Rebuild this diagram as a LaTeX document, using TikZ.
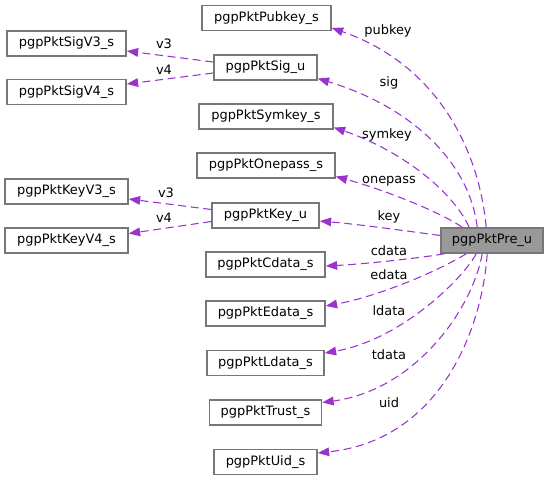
\documentclass[tikz,border=0pt]{standalone}
\usepackage{fontspec}
\setmainfont{DejaVu Sans}
\usetikzlibrary{arrows.meta,calc}
\definecolor{edgec}{HTML}{9A32CD}
\definecolor{boxc}{HTML}{777777}
\definecolor{mainfill}{HTML}{999999}
\tikzset{
  box/.style={draw=boxc, line width=1.2pt, rectangle, inner sep=0pt, minimum height=18.75pt,
    font=\fontsize{9.7}{11}\selectfont, text height=7.2pt, text depth=2pt},
  mainbox/.style={box, fill=mainfill},
  rel/.style={draw=edgec, line width=0.8pt, dash pattern=on 6pt off 3.5pt,
    -{Triangle[length=8.5pt,width=6.5pt,fill=edgec]}},
  lbl/.style={font=\fontsize{9.7}{11}\selectfont, inner sep=0pt, text height=7.2pt, text depth=2pt}
}
\begin{document}
\begin{tikzpicture}[x=0.75pt,y=-0.75pt]
\useasboundingbox (0,0) rectangle (549,480);
% nodes
\node[box, minimum width=96.75pt]  (pub)   at (266.5,18)   {pgpPktPubkey\_s};
\node[box, minimum width=89.25pt]  (sigv3) at (66.5,43.5)  {pgpPktSigV3\_s};
\node[box, minimum width=77.25pt]  (sig)   at (265.5,67.5) {pgpPktSig\_u};
\node[box, minimum width=89.25pt]  (sigv4) at (66.5,92)    {pgpPktSigV4\_s};
\node[box, minimum width=100.5pt]  (sym)   at (266,116.5)  {pgpPktSymkey\_s};
\node[box, minimum width=103.5pt]  (one)   at (266,165.5)  {pgpPktOnepass\_s};
\node[box, minimum width=92.25pt]  (keyv3) at (66.5,191.5) {pgpPktKeyV3\_s};
\node[box, minimum width=80.25pt]  (key)   at (265.5,215.5){pgpPktKey\_u};
\node[box, minimum width=92.25pt]  (keyv4) at (66.5,240.5) {pgpPktKeyV4\_s};
\node[mainbox, minimum width=76.5pt] (pre) at (492,240.5)  {pgpPktPre\_u};
\node[box, minimum width=89.25pt]  (cdata) at (265.5,264.5){pgpPktCdata\_s};
\node[box, minimum width=89.25pt]  (edata) at (265.5,313.5){pgpPktEdata\_s};
\node[box, minimum width=87.75pt]  (ldata) at (265.5,363)  {pgpPktLdata\_s};
\node[box, minimum width=84pt]     (trust) at (265.5,412.5){pgpPktTrust\_s};
\node[box, minimum width=77.25pt]  (uid)   at (265.5,462)  {pgpPktUid\_s};
% edges from pre (upper)
\draw[rel] ($(pre.north west)+(46,0)$) .. controls (478,140) and (430,62) .. ($(pub.east)+(0,10)$);
\draw[rel] ($(pre.north west)+(37,0)$) .. controls (470,165) and (415,108) .. ($(sig.east)+(0,11)$);
\draw[rel] ($(pre.north west)+(29,0)$) .. controls (452,190) and (400,150) .. ($(sym.east)+(0,11)$);
\draw[rel] ($(pre.north west)+(22,0)$) .. controls (440,212) and (385,190) .. ($(one.east)+(0,11)$);
\draw[rel] ($(pre.west)+(0,-5)$) .. controls (400,230) and (355,224) .. ($(key.east)+(0,5.5)$);
% edges from pre (lower)
\draw[rel] ($(pre.south west)+(4,0)$) .. controls (420,258) and (365,264) .. ($(cdata.east)+(0,1.5)$);
\draw[rel] ($(pre.south west)+(26,0)$) .. controls (440,270) and (380,296) .. ($(edata.east)+(0,-7.5)$);
\draw[rel] ($(pre.south west)+(36,0)$) .. controls (462,280) and (400,340) .. ($(ldata.east)+(0,-10)$);
\draw[rel] ($(pre.south west)+(42,0)$) .. controls (472,310) and (415,390) .. ($(trust.east)+(0,-10)$);
\draw[rel] ($(pre.south west)+(47,0)$) .. controls (482,330) and (440,440) .. ($(uid.east)+(0,-9)$);
% sig / key versions
\draw[rel] ($(sig.west)+(0,-5.5)$) -- ($(sigv3.east)+(0,7.5)$);
\draw[rel] ($(sig.west)+(0,5.5)$) -- ($(sigv4.east)+(0,-8)$);
\draw[rel] ($(key.west)+(0,-6)$) -- ($(keyv3.east)+(0,7.5)$);
\draw[rel] ($(key.west)+(0,6)$) -- ($(keyv4.east)+(0,-7)$);
% labels
\node[lbl] (lpub) at (388,31)  {pubkey};
\node[lbl] (lsig) at (389,83)  {sig};
\node[lbl] (lsym) at (387,135) {symkey};
\node[lbl] (lone) at (389,180) {onepass};
\node[lbl] (lkey) at (389,217) {key};
\node[lbl] (lcd)  at (389,252) {cdata};
\node[lbl] (led)  at (389,276) {edata};
\node[lbl] (lld)  at (389,312) {ldata};
\node[lbl] (ltd)  at (389,356) {tdata};
\node[lbl] (luid) at (389,404) {uid};
\node[lbl] (ls3)  at (164,45)  {v3};
\node[lbl] (ls4)  at (164,71)  {v4};
\node[lbl] (lk3)  at (166,194) {v3};
\node[lbl] (lk4)  at (164,219) {v4};
\end{tikzpicture}
\end{document}
